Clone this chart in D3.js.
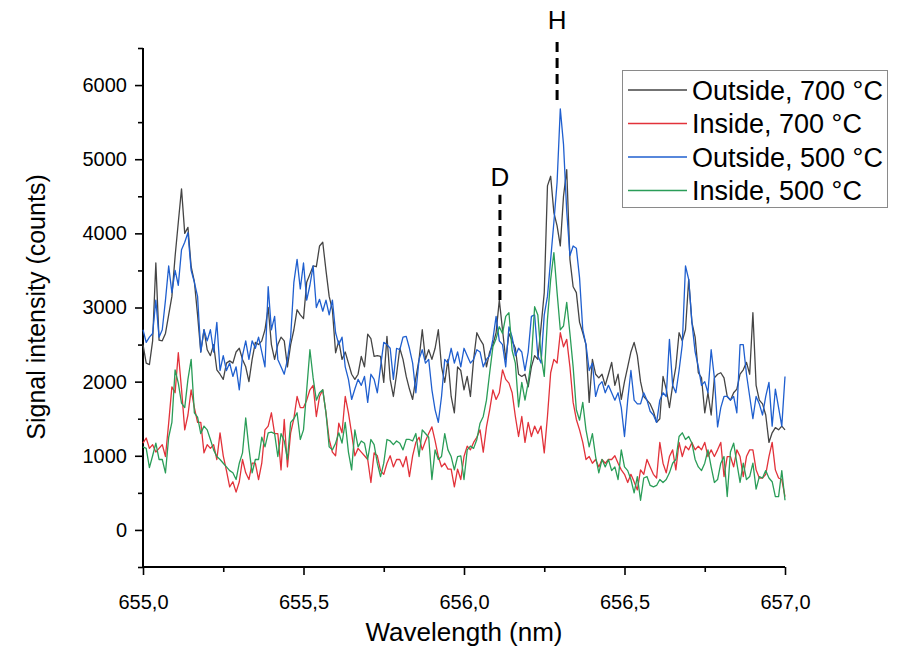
<!DOCTYPE html>
<html><head><meta charset="utf-8">
<script src="https://cdn.jsdelivr.net/npm/d3@7"></script>
<style>body{margin:0;background:#fff}svg{display:block}text{font-family:"Liberation Sans",Arial,sans-serif}</style>
</head><body><svg id="c" width="897" height="649"></svg>
<script>
const seriesNames = ["Outside, 700 °C", "Inside, 700 °C", "Outside, 500 °C", "Inside, 500 °C"];
const seriesColors = ["#454545", "#e2323a", "#1f5fcf", "#2a9d58"];
const xTicks = [655.0, 655.5, 656.0, 656.5, 657.0];
const yTicks = [0, 1000, 2000, 3000, 4000, 5000, 6000];
const lambdaStart = 655.0, lambdaStep = 0.01;
const markers = [{label: "D", wl: 656.112, y0: 3100, y1: 4520, ly: 4640}, {label: "H", wl: 656.29, y0: 5800, y1: 6630, ly: 6760}];

const outside700 = [2500,2250,2230,2550,3600,2560,2550,2650,2900,3150,3690,4150,4600,4000,4080,3550,3350,2900,2400,2700,
2430,2350,2500,2160,2100,2030,2250,2280,2250,2400,2450,2300,2200,2000,2300,2530,2500,2550,2700,3000,
2500,2300,2500,2600,2550,2200,2500,2700,2970,2900,2850,3340,3450,3560,3550,3830,3880,3500,3150,2970,
2390,2550,2300,2400,2250,2100,2030,2100,2340,2200,2640,2580,2340,2350,2340,1990,2610,2030,1800,2100,
2450,2300,2070,1900,1760,2050,2300,2700,2300,2430,2300,2450,2700,2200,1990,2300,1800,1580,2200,2150,
1890,2070,1800,2300,2660,2570,2500,2200,2400,2500,2660,3100,2700,2300,2650,2550,2450,2100,2070,2100,
1930,2200,2350,2300,2740,3200,4640,4770,4280,4100,3830,4500,4860,3650,3280,3200,2800,2660,2500,1720,
2300,2100,2050,2100,1950,2100,2260,1950,2100,1760,2000,2200,2400,2530,2350,2000,1800,1750,1700,1600,
1450,1500,2070,1900,1650,1950,2200,2660,2550,2700,3380,2800,2600,2120,2050,1580,1850,1550,2050,2100,
2120,2050,1800,1750,1850,1900,2100,2160,2260,2100,2930,1950,1750,1700,1550,1180,1310,1380,1350,1400,1350];

const inside700 = [1170,1240,1100,1150,1050,1100,1150,990,1440,1930,1850,2390,1900,1350,1550,1890,1650,1450,1450,1040,
1150,1100,1150,950,1310,1000,800,580,650,510,650,950,770,680,900,900,680,900,1350,1400,
1580,1300,1300,810,1490,850,1310,1500,1800,1650,1650,1750,1890,1950,1530,1800,1890,1580,1220,1050,
1000,1440,1310,1800,1580,1300,1000,1100,1050,1000,950,640,1040,1000,800,750,900,1000,850,950,
950,850,990,720,1000,1180,1250,1080,1200,1300,1390,1200,990,850,900,820,820,580,820,680,
990,1130,1080,1180,1250,1350,1050,1390,1620,1890,1760,1850,2160,2030,1980,1850,1530,1260,1530,1180,
1450,1260,1400,1300,1400,1040,1530,2120,2300,2250,2660,2470,2570,2200,1720,1490,1350,1180,950,990,
900,950,850,950,900,950,950,1000,900,810,750,640,750,650,540,810,750,950,850,750,
700,1180,900,770,990,1080,810,1180,990,1130,1080,1180,1080,1130,1080,1180,990,1080,990,1080,
1180,720,990,990,850,1080,990,720,990,1080,1080,810,700,700,750,990,1180,810,700,680,450];

const outside500 = [2700,2530,2600,2650,3100,2600,2700,3100,3560,3200,3500,3300,3780,3880,4010,3500,3340,3150,2400,2700,
2550,2700,2400,2800,2150,2350,2150,2250,2070,2200,1890,2350,2550,2300,2550,2450,2600,2400,2200,3280,
2700,2880,2300,2200,2100,2300,2600,3340,3650,3250,3600,3100,3300,3560,3000,3110,2950,3100,2900,3100,
2660,2500,2600,2200,2030,1760,1900,2030,1950,2070,1720,2100,2030,1850,2200,2530,2500,2450,2030,2450,
2430,2600,2610,2450,2250,1850,2300,2430,2250,2300,1890,1620,1450,1800,2300,2250,2450,2250,2400,2200,
2450,2350,2250,2300,2430,2400,2200,2300,2350,2570,2880,2550,2500,2200,2740,2600,2350,2450,2400,2150,
2400,2880,2900,2350,2250,2900,3150,3650,4150,4690,5680,5200,4300,3700,3830,3800,3400,2700,2500,2150,
2250,1800,1950,2000,1850,1950,1850,1750,1850,1650,1260,1750,2150,1750,1700,1700,1850,1750,1600,1550,
1450,1750,1850,1800,2570,1950,1850,2150,2500,3560,3380,2800,2400,2200,1950,2000,1850,2430,2050,1390,
1650,1800,1800,1750,1800,1580,2500,2500,2100,1800,1500,1800,1700,1550,1800,1990,1400,1900,1650,1400,2070];

const inside500 = [1120,1100,840,1000,1170,950,950,770,1250,1450,2160,1980,1710,1650,2030,2300,1580,1520,1300,1400,
1350,1220,1080,990,950,900,850,800,770,680,900,1040,1510,1100,770,950,950,1250,1120,1310,
1320,1300,990,1300,1200,950,1450,1500,1580,1220,1350,1890,2430,2050,1750,1850,1890,1580,1120,1080,
1170,1310,1170,1450,1050,810,1350,1120,1200,1170,950,1220,1150,900,720,900,1220,1200,1150,1200,
1170,1080,1220,1220,1200,1300,990,1350,1300,1250,680,1080,950,990,1300,1080,990,810,990,1000,
680,1080,1130,1100,1220,1440,1530,1750,2120,2470,2580,2740,2650,2880,2930,2420,2250,1660,1990,1750,
1990,2300,3010,2900,2350,2070,2840,3380,3740,3200,2700,2750,3070,2650,2200,1620,1480,1720,1350,1120,
1300,990,770,950,850,950,800,850,680,1080,850,800,680,500,720,400,700,720,600,580,
600,680,640,680,770,900,950,1260,1310,1220,1260,1170,950,850,800,900,1080,850,640,680,
900,990,450,1050,1170,900,640,900,680,720,900,550,720,700,800,700,650,450,450,800,400];

const series = [outside700, inside700, outside500, inside500];

const svg = d3.select("#c");
const x = d3.scaleLinear().domain([655.0, 657.0]).range([143, 785]);
const y = d3.scaleLinear().domain([-500, 6500]).range([567, 48]);

// axes
const xAxis = d3.axisBottom(x).tickValues(xTicks).tickSize(8).tickFormat(d => d3.format(".1f")(d).replace(".", ","));
const gx = svg.append("g").attr("transform", `translate(0,${y(-500)})`).call(xAxis);
const xMinor = d3.axisBottom(x).tickValues([655.25, 655.75, 656.25, 656.75]).tickSize(5).tickFormat("");
svg.append("g").attr("transform", `translate(0,${y(-500)})`).call(xMinor).select(".domain").remove();

const yAxis = d3.axisLeft(y).tickValues(yTicks).tickSize(8).tickFormat(d3.format("d"));
const gy = svg.append("g").attr("transform", `translate(${x(655.0)},0)`).call(yAxis);
const yMinor = d3.axisLeft(y).tickValues([-500, 500, 1500, 2500, 3500, 4500, 5500, 6500]).tickSize(5).tickFormat("");
svg.append("g").attr("transform", `translate(${x(655.0)},0)`).call(yMinor).select(".domain").remove();

svg.selectAll(".domain").attr("stroke", "#000").attr("stroke-width", 2);
svg.selectAll(".tick line").attr("stroke", "#000").attr("stroke-width", 1.6);
gx.selectAll(".domain").attr("d", `M${x(655.0)},0H${x(657.0)}`);
gy.selectAll(".domain").attr("d", `M0,${y(6500)}V${y(-500)}`);
gx.selectAll(".tick text").attr("font-size", 20).attr("fill", "#000").attr("dy", "1.55em");
gy.selectAll(".tick text").attr("font-size", 20).attr("fill", "#000").attr("dx", "-0.25em");

// lines
const line = d3.line().x((d, i) => x(lambdaStart + i * lambdaStep)).y(d => y(d));
series.forEach((s, k) => {
  svg.append("path").datum(s).attr("d", line).attr("fill", "none")
    .attr("stroke", seriesColors[k]).attr("stroke-width", 1.3).attr("stroke-linejoin", "round");
});

// markers
markers.forEach(m => {
  svg.append("line").attr("x1", x(m.wl)).attr("x2", x(m.wl)).attr("y1", y(m.y0)).attr("y2", y(m.y1))
    .attr("stroke", "#000").attr("stroke-width", 3).attr("stroke-dasharray", "10,6");
  svg.append("text").attr("x", x(m.wl)).attr("y", y(m.ly)).attr("text-anchor", "middle")
    .attr("font-size", 26).attr("fill", "#000").text(m.label);
});

// axis titles
svg.append("text").attr("x", 464).attr("y", 641).attr("text-anchor", "middle").attr("font-size", 26).text("Wavelength (nm)");
svg.append("text").attr("transform", "translate(45,307) rotate(-90)").attr("text-anchor", "middle").attr("font-size", 25).text("Signal intensity (counts)");

// legend
const lg = svg.append("g");
lg.append("rect").attr("x", 622.5).attr("y", 70.5).attr("width", 265).attr("height", 137).attr("fill", "#fff").attr("stroke", "#8a8a8a").attr("stroke-width", 1);
seriesNames.forEach((n, k) => {
  const yy = 90 + k * 33.5;
  lg.append("line").attr("x1", 628).attr("x2", 687).attr("y1", yy).attr("y2", yy).attr("stroke", seriesColors[k]).attr("stroke-width", 1.3);
  lg.append("text").attr("x", 692).attr("y", yy + 9.8).attr("font-size", 27).attr("fill", "#000").text(n);
});
</script></body></html>
